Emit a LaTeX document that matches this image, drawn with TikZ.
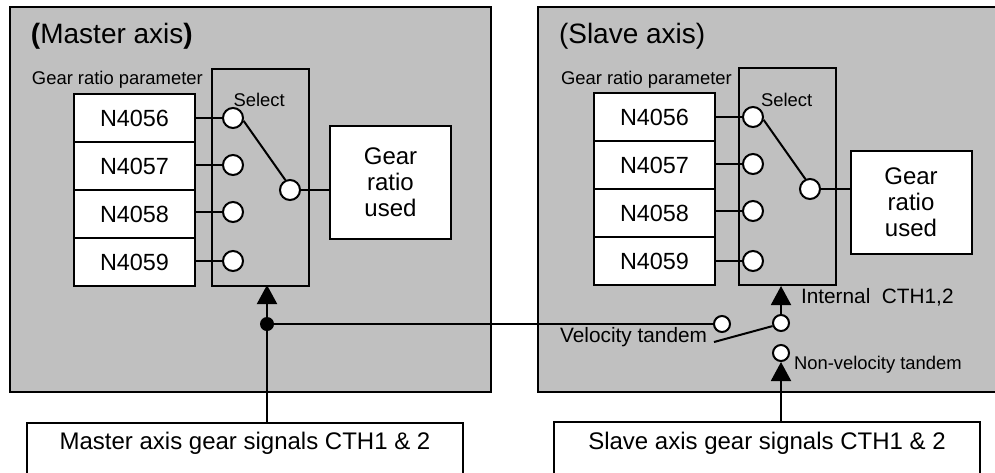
\documentclass[tikz,border=0pt]{standalone}
\usepackage{fontspec}
\setmainfont{Liberation Sans}
\usetikzlibrary{arrows.meta}
\definecolor{axisgray}{HTML}{C0C0C0}
\begin{document}
\begin{tikzpicture}[x=0.5pt,y=-0.5pt, line width=1pt,
  axisbox/.style={draw, fill=axisgray, inner sep=0},
  parambox/.style={draw, fill=white, inner sep=0, minimum width=60.5pt, minimum height=24pt, font=\fontsize{11.7}{13}\selectfont},
  selbox/.style={draw, inner sep=0, minimum width=48.5pt, minimum height=108.5pt},
  sw/.style={draw, circle, fill=white, inner sep=0, minimum size=10pt},
  swsmall/.style={draw, circle, fill=white, inner sep=0, minimum size=8pt},
  gearbox/.style={draw, fill=white, inner sep=0, minimum width=60.5pt, align=center, font=\fontsize{12}{13}\selectfont},
  sigbox/.style={draw, fill=white, inner sep=0, minimum height=38.5pt},
  titletext/.style={inner sep=0, anchor=west, font=\fontsize{14}{16}\selectfont},
  smalltext/.style={inner sep=0, anchor=west, font=\fontsize{9.2}{11}\selectfont},
  midtext/.style={inner sep=0, anchor=west, font=\fontsize{10.4}{12}\selectfont},
  bigtext/.style={inner sep=0, font=\fontsize{12}{14}\selectfont},
  sigarrow/.style={-{Triangle[length=9.5pt,width=10pt]}},
  junction/.style={circle, fill=black, inner sep=0, minimum size=7pt}
]
\useasboundingbox (0,0) rectangle (995,472);
\clip (0,0) rectangle (995,472);

% ---------------- Master axis ----------------
\node[axisbox, minimum width=240.5pt, minimum height=192.5pt] (MA) at (250.5,199.5) {};
\node[titletext] (MT) at (30,36) {\textbf{(}Master axis\textbf{)}};
\node[smalltext] (MGP) at (31,80) {Gear ratio parameter};
\node[parambox] (MP1) at (134.5,118) {N4056};
\node[parambox] (MP2) at (134.5,166) {N4057};
\node[parambox] (MP3) at (134.5,214) {N4058};
\node[parambox] (MP4) at (134.5,262) {N4059};
\node[selbox] (MSel) at (260.5,177.5) {};
\node[smalltext] (MSelT) at (232.5,100) {Select};
\node[sw] (MC1) at (233,118) {};
\node[sw] (MC2) at (233,165) {};
\node[sw] (MC3) at (233,212) {};
\node[sw] (MC4) at (233,261) {};
\node[sw] (MCo) at (290,190) {};
\node[gearbox, minimum height=56.5pt] (MG) at (390.5,182.5) {Gear\\ratio\\used};
\draw (MC1.west -| MP1.east) -- (MC1.west);
\draw (MC2.west -| MP2.east) -- (MC2.west);
\draw (MC3.west -| MP3.east) -- (MC3.west);
\draw (MC4.west -| MP4.east) -- (MC4.west);
\draw (MC1.-15) -- (MCo.115);
\draw (MCo.east) -- (MCo.east -| MG.west);

% ---------------- Slave axis ----------------
\node[axisbox, minimum width=236pt, minimum height=192.5pt] (SA) at (774,199.5) {};
\node[titletext] (ST) at (558,36) {(Slave axis)};
\node[smalltext] (SGP) at (560,80) {Gear ratio parameter};
\node[parambox] (SP1) at (654.5,117) {N4056};
\node[parambox] (SP2) at (654.5,165) {N4057};
\node[parambox] (SP3) at (654.5,213) {N4058};
\node[parambox] (SP4) at (654.5,261) {N4059};
\node[selbox] (SSel) at (787,176.5) {};
\node[smalltext] (SSelT) at (760,100) {Select};
\node[sw] (SC1) at (753,117) {};
\node[sw] (SC2) at (753,164) {};
\node[sw] (SC3) at (753,211) {};
\node[sw] (SC4) at (753,261) {};
\node[sw] (SCo) at (810,189) {};
\node[gearbox, minimum height=51.5pt] (SG) at (911,202.5) {Gear\\ratio\\used};
\draw (SC1.west -| SP1.east) -- (SC1.west);
\draw (SC2.west -| SP2.east) -- (SC2.west);
\draw (SC3.west -| SP3.east) -- (SC3.west);
\draw (SC4.west -| SP4.east) -- (SC4.west);
\draw (SC1.-15) -- (SCo.115);
\draw (SCo.east) -- (SCo.east -| SG.west);

% tandem switch
\node[swsmall] (SIc) at (781,323) {};
\node[swsmall] (SVt) at (722,324) {};
\node[swsmall] (SNv) at (781,353) {};
\coordinate (SVs) at (714,342);
\draw (SVs) -- (SIc.200);
\draw[sigarrow] (SIc.north) -- (SIc.north |- SSel.south);
\node[midtext] (SIcT) at (800,297) {Internal\ \ CTH1,2};
\node[midtext, anchor=east] (SVtT) at (708,337) {Velocity tandem};
\node[smalltext] (SNvT) at (793,365) {Non-velocity tandem};

% ---------------- Signal boxes ----------------
\node[sigbox, minimum width=218pt] (MS) at (245,461.5) {};
\node[bigtext] (MST) at (245,443) {Master axis gear signals CTH1 \& 2};
\node[sigbox, minimum width=213pt] (SS) at (767,460.5) {};
\node[bigtext] (SST) at (767,443) {Slave axis gear signals CTH1 \& 2};

\node[junction] (MJ) at (267,324) {};
\draw[sigarrow] (MS.north -| MJ) -- ([yshift=1pt]MJ.center |- MSel.south);
\draw (MJ.center) -- (SVt.west);
\draw[sigarrow] (SS.north -| SNv) -- (SNv.south);
\end{tikzpicture}
\end{document}
